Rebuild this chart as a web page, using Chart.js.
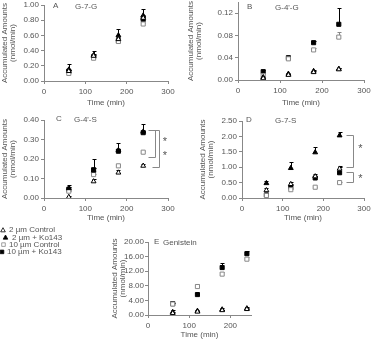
<!DOCTYPE html>
<html>
<head>
<meta charset="utf-8">
<script src="https://cdn.jsdelivr.net/npm/chart.js@4.4.0/dist/chart.umd.min.js"></script>
<style>
  body { margin: 0; background: #fff; width: 372px; height: 342px; overflow: hidden; position: relative; font-family: "Liberation Sans", Arial, sans-serif; }
  canvas { position: absolute; }
</style>
</head>
<body>
<canvas id="panelA"></canvas>
<canvas id="panelB"></canvas>
<canvas id="panelC"></canvas>
<canvas id="panelD"></canvas>
<canvas id="panelE"></canvas>
<canvas id="leyenda" width="70" height="34" style="left:0;top:224px"></canvas>
<script>
// ====== Datos ======
const tiempos = [60, 120, 180, 240];
const series = ['2 µm Control', '2 µm + Ko143', '10 µm Control', '10 µm + Ko143'];

// A: G-7-G
const aCtrl2 = [0.13, 0.33, 0.55, 0.83];
const aKo2 = [0.15, 0.34, 0.60, 0.86];
const aCtrl10 = [0.10, 0.30, 0.52, 0.75];
const aKo10 = [0.13, 0.32, 0.53, 0.81];
const aErrCtrl2 = [0.02, 0.03, 0.03, 0.04];
const aErrKo2 = [0.07, 0.06, 0.08, 0.09];
const aErrCtrl10 = [0.01, 0.01, 0.01, 0.01];
const aErrKo10 = [0.02, 0.02, 0.02, 0.03];

// B: G-4'-G
const bCtrl2 = [0.003, 0.009, 0.014, 0.019];
const bKo2 = [0.005, 0.011, 0.016, 0.020];
const bCtrl10 = [0.008, 0.038, 0.054, 0.077];
const bKo10 = [0.015, 0.040, 0.067, 0.100];
const bErrCtrl2 = [0.002, 0.002, 0.002, 0.002];
const bErrKo2 = [0.002, 0.002, 0.002, 0.002];
const bErrCtrl10 = [0.002, 0.002, 0.003, 0.009];
const bErrKo10 = [0.003, 0.002, 0.003, 0.030];

// C: G-4'-S
const cCtrl2 = [0.005, 0.085, 0.13, 0.165];
const cKo2 = [0.05, 0.14, 0.245, 0.34];
const cCtrl10 = [0.035, 0.12, 0.165, 0.235];
const cKo10 = [0.045, 0.145, 0.24, 0.335];
const cErrCtrl2 = [0.005, 0.015, 0.015, 0.01];
const cErrKo2 = [0.015, 0.06, 0.035, 0.04];
const cErrCtrl10 = [0.003, 0.005, 0.005, 0.005];
const cErrKo10 = [0.01, 0.01, 0.01, 0.01];

// D: G-7-S
const dCtrl2 = [0.25, 0.45, 0.70, 0.95];
const dKo2 = [0.48, 0.97, 1.48, 2.03];
const dCtrl10 = [0.08, 0.27, 0.35, 0.50];
const dKo10 = [0.10, 0.35, 0.65, 0.82];
const dErrCtrl2 = [0.08, 0.08, 0.08, 0.10];
const dErrKo2 = [0.07, 0.20, 0.17, 0.12];
const dErrCtrl10 = [0.02, 0.02, 0.02, 0.02];
const dErrKo10 = [0.03, 0.12, 0.08, 0.20];

// E: Genistein
const eCtrl2 = [0.5, 0.9, 1.3, 1.6];
const eKo2 = [0.8, 1.1, 1.5, 1.8];
const eCtrl10 = [3.0, 7.8, 11.2, 15.3];
const eKo10 = [3.1, 5.6, 13.0, 16.8];
const eErrCtrl2 = [0.2, 0.2, 0.2, 0.2];
const eErrKo2 = [0.6, 0.3, 0.3, 0.3];
const eErrCtrl10 = [0.2, 0.6, 0.6, 0.6];
const eErrKo10 = [0.3, 0.4, 1.2, 0.8];

// corchetes de significancia: [arriba, abajo, y del asterisco]
const cCorchetes = [[0.35, 0.21, 0.30], [0.35, 0.157, 0.225]];
const dCorchetes = [[2.05, 1.00, 1.67], [0.83, 0.53, 0.69]];

// ====== Estilos ======
const gris = '#555';
const fuente = { family: '"Liberation Sans", Arial, sans-serif', size: 8 };
const estilos = [
  { pointStyle: 'triangle', backgroundColor: '#fff', borderColor: '#000', radio: 2.8 },
  { pointStyle: 'triangle', backgroundColor: '#000', borderColor: '#000', radio: 2.8 },
  { pointStyle: 'rect', backgroundColor: '#fff', borderColor: '#888', radio: 2.9 },
  { pointStyle: 'rect', backgroundColor: '#000', borderColor: '#000', radio: 2.9 }
];

// barras de error (solo hacia arriba)
const barrasError = {
  id: 'barrasError',
  beforeDatasetsDraw(chart) {
    const ctx = chart.ctx;
    const y = chart.scales.y;
    chart.data.datasets.forEach((ds, i) => {
      const meta = chart.getDatasetMeta(i);
      ctx.save();
      ctx.strokeStyle = ds.borderColor === '#888' ? '#888' : '#000';
      ctx.lineWidth = 1;
      meta.data.forEach((pt, j) => {
        const top = Math.round(y.getPixelForValue(ds.data[j].y + ds.errores[j])) + 0.5;
        const x = Math.round(pt.x) + 0.5;
        ctx.beginPath();
        ctx.moveTo(x, pt.y);
        ctx.lineTo(x, top);
        ctx.moveTo(x - 2, top);
        ctx.lineTo(x + 2, top);
        ctx.stroke();
      });
      ctx.restore();
    });
  }
};

// letra y nombre del panel + corchetes
const rotulos = {
  id: 'rotulos',
  afterDraw(chart, args, opts) {
    const ctx = chart.ctx;
    const area = chart.chartArea;
    ctx.save();
    ctx.fillStyle = gris;
    ctx.font = '8px "Liberation Sans", Arial, sans-serif';
    ctx.textBaseline = 'middle';
    ctx.fillText(opts.letra, area.left + opts.dxLetra, area.top + opts.dy);
    ctx.fillText(opts.nombre, area.left + opts.dxNombre, area.top + opts.dy + 1);
    if (opts.corchetes) {
      const xs = chart.scales.x, ys = chart.scales.y;
      ctx.strokeStyle = '#888';
      opts.corchetes.forEach((c, k) => {
        const x = Math.round(xs.getPixelForValue(opts.xCorchete[k])) + 0.5;
        const y1 = Math.round(ys.getPixelForValue(c[0])) + 0.5;
        const y2 = Math.round(ys.getPixelForValue(c[1])) + 0.5;
        ctx.beginPath();
        ctx.moveTo(x - 7, y1);
        ctx.lineTo(x, y1);
        ctx.lineTo(x, y2);
        ctx.lineTo(x - 7, y2);
        ctx.stroke();
        ctx.font = '11px "Liberation Sans", Arial, sans-serif';
        ctx.fillText('*', xs.getPixelForValue(opts.xAsterisco), ys.getPixelForValue(c[2]) + 2);
      });
    }
    ctx.restore();
  }
};

function puntos(vals) {
  return vals.map((v, i) => ({ x: tiempos[i], y: v }));
}

function crearPanel(id, geo, valores, errores, ejes, etiqueta) {
  const canvas = document.getElementById(id);
  const ancho = geo.plotRight + 12 - geo.left;
  const alto = geo.bottom - (geo.plotTop - 10);
  canvas.width = ancho;
  canvas.height = alto;
  canvas.style.left = geo.left + 'px';
  canvas.style.top = (geo.plotTop - 10) + 'px';
  canvas.style.width = ancho + 'px';
  canvas.style.height = alto + 'px';

  const datasets = valores.map((vals, i) => ({
    label: series[i],
    data: puntos(vals),
    errores: errores[i],
    pointStyle: estilos[i].pointStyle,
    backgroundColor: estilos[i].backgroundColor,
    borderColor: estilos[i].borderColor,
    borderWidth: 1,
    pointRadius: estilos[i].radio,
    showLine: false
  }));

  return new Chart(canvas, {
    type: 'scatter',
    data: { datasets: datasets },
    options: {
      responsive: false,
      animation: false,
      events: [],
      layout: { padding: { top: 10, right: 12, left: 0, bottom: 0 } },
      plugins: {
        legend: { display: false },
        tooltip: { enabled: false },
        rotulos: etiqueta
      },
      scales: {
        x: {
          type: 'linear',
          min: 0,
          max: ejes.xMax,
          afterBuildTicks: s => { s.ticks = ejes.xTicks.map(v => ({ value: v })); },
          ticks: { color: gris, font: fuente, padding: 3, maxRotation: 0 },
          grid: { drawOnChartArea: false, drawTicks: true, tickLength: 3, color: '#888' },
          border: { display: true, color: '#888' },
          title: { display: true, text: 'Time (min)', color: gris, font: fuente, padding: { top: 0, bottom: 2 } },
          afterFit: s => { s.height = geo.bottom - geo.plotBottom; }
        },
        y: {
          type: 'linear',
          min: 0,
          max: ejes.yMax,
          afterBuildTicks: s => { s.ticks = ejes.yTicks.map(v => ({ value: v })); },
          ticks: { color: gris, font: fuente, padding: geo.tickPad || 2, callback: v => v.toFixed(2) },
          grid: { drawOnChartArea: false, drawTicks: true, tickLength: 3, color: '#888' },
          border: { display: true, color: '#888' },
          title: {
            display: true,
            text: ['Accumulated Amounts', '(nmol/min)'],
            color: gris,
            font: { family: fuente.family, size: 8, lineHeight: 1 },
            padding: { top: 1, bottom: 0 }
          },
          afterFit: s => { s.width = geo.plotLeft - geo.left; }
        }
      }
    },
    plugins: [barrasError, rotulos]
  });
}

crearPanel('panelA',
  { left: 0, plotLeft: 44, plotRight: 168, plotTop: 5, plotBottom: 81, bottom: 110 },
  [aCtrl2, aKo2, aCtrl10, aKo10], [aErrCtrl2, aErrKo2, aErrCtrl10, aErrKo10],
  { xMax: 300, xTicks: [0, 100, 200, 300], yMax: 1, yTicks: [0, 0.2, 0.4, 0.6, 0.8, 1.0] },
  { letra: 'A', nombre: 'G-7-G', dxLetra: 9, dxNombre: 31, dy: 1 });

crearPanel('panelB',
  { left: 186, plotLeft: 238, plotRight: 364, plotTop: 2, plotBottom: 80, bottom: 110 },
  [bCtrl2, bKo2, bCtrl10, bKo10], [bErrCtrl2, bErrKo2, bErrCtrl10, bErrKo10],
  { xMax: 300, xTicks: [0, 100, 200, 300], yMax: 0.14, yTicks: [0, 0.04, 0.08, 0.12] },
  { letra: 'B', nombre: "G-4'-G", dxLetra: 9, dxNombre: 37, dy: 5 });

crearPanel('panelC',
  { left: 0, plotLeft: 44, plotRight: 168, plotTop: 120, plotBottom: 198, bottom: 225 },
  [cCtrl2, cKo2, cCtrl10, cKo10], [cErrCtrl2, cErrKo2, cErrCtrl10, cErrKo10],
  { xMax: 300, xTicks: [0, 100, 200, 300], yMax: 0.4, yTicks: [0, 0.1, 0.2, 0.3, 0.4] },
  { letra: 'C', nombre: "G-4'-S", dxLetra: 12, dxNombre: 30, dy: -1,
    corchetes: cCorchetes, xCorchete: [269, 278], xAsterisco: 287 });

crearPanel('panelD',
  { left: 198, plotLeft: 242, plotRight: 364, plotTop: 121, plotBottom: 198, bottom: 225 },
  [dCtrl2, dKo2, dCtrl10, dKo10], [dErrCtrl2, dErrKo2, dErrCtrl10, dErrKo10],
  { xMax: 300, xTicks: [0, 100, 200, 300], yMax: 2.5, yTicks: [0, 0.5, 1.0, 1.5, 2.0, 2.5] },
  { letra: 'D', nombre: 'G-7-S', dxLetra: 4, dxNombre: 33, dy: -1,
    corchetes: dCorchetes, xCorchete: [274, 274], xAsterisco: 286 });

crearPanel('panelE',
  { left: 110, plotLeft: 148, plotRight: 251, plotTop: 242, plotBottom: 315, bottom: 342, tickPad: 1 },
  [eCtrl2, eKo2, eCtrl10, eKo10], [eErrCtrl2, eErrKo2, eErrCtrl10, eErrKo10],
  { xMax: 250, xTicks: [0, 100, 200], yMax: 20, yTicks: [0, 4, 8, 12, 16, 20] },
  { letra: 'E', nombre: 'Genistein', dxLetra: 6, dxNombre: 15, dy: 0 });

// ====== Leyenda (a mano, como en la figura original) ======
const ley = document.getElementById('leyenda').getContext('2d');
const xsSimbolo = [3, 5.5, 3.5, 2];
const xsTexto = [9, 12, 9, 7];
ley.textBaseline = 'middle';
series.forEach((nombre, i) => {
  const y = 6 + i * 7.3;
  const e = estilos[i];
  const r = 2.3;
  ley.save();
  ley.lineWidth = 0.8;
  ley.fillStyle = e.backgroundColor;
  ley.strokeStyle = e.borderColor;
  ley.beginPath();
  if (e.pointStyle === 'triangle') {
    ley.moveTo(xsSimbolo[i], y - r);
    ley.lineTo(xsSimbolo[i] + r, y + r * 0.8);
    ley.lineTo(xsSimbolo[i] - r, y + r * 0.8);
    ley.closePath();
  } else {
    ley.rect(xsSimbolo[i] - 1.8, y - 1.8, 3.6, 3.6);
  }
  ley.fill();
  ley.stroke();
  ley.restore();
  ley.fillStyle = gris;
  ley.font = '8px "Liberation Sans", Arial, sans-serif';
  ley.fillText(nombre, xsTexto[i], y);
});
</script>
</body>
</html>
